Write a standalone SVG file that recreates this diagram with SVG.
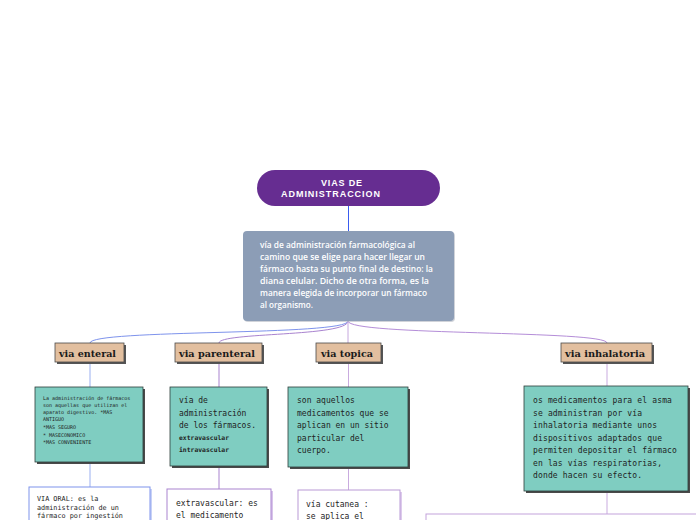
<svg xmlns="http://www.w3.org/2000/svg" width="696" height="520" viewBox="0 0 696 520">
<style>
.title{font-family:"Liberation Sans",Arial,sans-serif;font-weight:bold;font-size:9px;fill:#fff}
.desc{font-family:"Open Sans","Noto Sans",sans-serif;font-size:9px;font-weight:600;fill:#fff}
.hdr{font-family:"DejaVu Serif","Liberation Serif",serif;font-weight:bold;font-size:10px;fill:#1a1a1a}
.mono{font-family:"DejaVu Sans Mono","Liberation Mono",monospace;fill:#1e1e1e}
.hbox{fill:#e2bf9f;stroke:#4a4a4a;stroke-width:0.8}
.hsh{fill:#555}
.teal{fill:#7fcdc1;stroke:#2e3e3a;stroke-width:0.8}
.tsh{fill:#4a4a4a}
.wbox{fill:#fff;stroke-width:1}
.conn{fill:none;stroke-width:1}
</style>
<g id="connectors">
<line x1="348.5" y1="206" x2="348.5" y2="231" stroke="#3a5cf0" class="conn"/>
<path d="M348,321 C348,336 90,329 90,343" stroke="#7e93ec" class="conn"/>
<path d="M348,321 C348,337 219,332 219,343" stroke="#a983cf" class="conn"/>
<path d="M348,321 L348,343" stroke="#c6a8de" class="conn"/>
<path d="M348,321 C348,336 607,330 607,343" stroke="#b48dd8" class="conn"/>
<line x1="90" y1="363" x2="90" y2="387" stroke="#9aaff0" class="conn"/>
<line x1="219" y1="363" x2="219" y2="387" stroke="#a983cf" class="conn"/>
<line x1="348.5" y1="363" x2="348.5" y2="387" stroke="#c9abdf" class="conn"/>
<line x1="607" y1="363" x2="607" y2="386" stroke="#c9abdf" class="conn"/>
<line x1="90" y1="462" x2="90" y2="487" stroke="#9aaff0" class="conn"/>
<line x1="219" y1="467" x2="219" y2="489" stroke="#a983cf" class="conn"/>
<line x1="348.5" y1="468" x2="348.5" y2="490" stroke="#c9abdf" class="conn"/>
<line x1="607" y1="491" x2="607" y2="514" stroke="#c9abdf" class="conn"/>
</g>
<g id="title">
<rect x="257" y="170" width="183" height="36" rx="18" fill="#662d91"/>
<text class="title" x="321" y="185.5" textLength="41" lengthAdjust="spacing">VIAS DE</text>
<text class="title" x="281" y="197" textLength="99" lengthAdjust="spacing">ADMINISTRACCION</text>
</g>
<g id="definition">
<rect x="244" y="232" width="211" height="90" rx="4" fill="#b0b6c0" opacity="0.6"/>
<rect x="243" y="231" width="211" height="90" rx="4" fill="#8c9db6"/>
<text class="desc" x="260" y="248" textLength="155" lengthAdjust="spacingAndGlyphs">vía de administración farmacológica al</text>
<text class="desc" x="260" y="260" textLength="165" lengthAdjust="spacingAndGlyphs">camino que se elige para hacer llegar un</text>
<text class="desc" x="260" y="272" textLength="173" lengthAdjust="spacingAndGlyphs">fármaco hasta su punto final de destino: la</text>
<text class="desc" x="260" y="284" textLength="169" lengthAdjust="spacingAndGlyphs">diana celular. Dicho de otra forma, es la</text>
<text class="desc" x="260" y="296" textLength="167" lengthAdjust="spacingAndGlyphs">manera elegida de incorporar un fármaco</text>
<text class="desc" x="260" y="308" textLength="53" lengthAdjust="spacingAndGlyphs">al organismo.</text>
</g>
<g id="h-enteral">
<rect class="hsh" x="57" y="345" width="69" height="19"/>
<rect class="hbox" x="55" y="343" width="69" height="19"/>
<text class="hdr" x="59" y="356.5" textLength="57" lengthAdjust="spacingAndGlyphs">via enteral</text>
</g>
<g id="h-parenteral">
<rect class="hsh" x="177" y="345" width="87" height="19"/>
<rect class="hbox" x="175" y="343" width="87" height="19"/>
<text class="hdr" x="179" y="356.5" textLength="76" lengthAdjust="spacingAndGlyphs">via parenteral</text>
</g>
<g id="h-topica">
<rect class="hsh" x="318" y="345" width="65" height="19"/>
<rect class="hbox" x="316" y="343" width="65" height="19"/>
<text class="hdr" x="321" y="356.5" textLength="52" lengthAdjust="spacingAndGlyphs">via topica</text>
</g>
<g id="h-inhalatoria">
<rect class="hsh" x="563" y="345" width="91" height="19"/>
<rect class="hbox" x="561" y="343" width="91" height="19"/>
<text class="hdr" x="565" y="356.5" textLength="80" lengthAdjust="spacingAndGlyphs">via inhalatoria</text>
</g>
<g id="t-enteral">
<rect class="tsh" x="37" y="389" width="108" height="75"/>
<rect class="teal" x="35" y="387" width="108" height="75"/>
<g class="mono" font-size="5px">
<text x="43" y="400">La administración de fármacos</text>
<text x="43" y="407">son aquellas que utilizan el</text>
<text x="43" y="414">aparato digestivo. *MAS</text>
<text x="43" y="421">ANTIGUO</text>
<text x="43" y="429">*MAS SEGURO</text>
<text x="43" y="436.5">* MASECONOMICO</text>
<text x="43" y="444">*MAS CONVENIENTE</text>
</g>
</g>
<g id="t-parenteral">
<rect class="tsh" x="172" y="389" width="97" height="79"/>
<rect class="teal" x="170" y="387" width="97" height="79"/>
<g class="mono" font-size="8px">
<text x="179" y="403">vía de</text>
<text x="179" y="415.5">administración</text>
<text x="179" y="428">de los fármacos.</text>
</g>
<g class="mono" font-size="6.4px" font-weight="bold">
<text x="179" y="440">extravascular</text>
<text x="179" y="452">intravascular</text>
</g>
</g>
<g id="t-topica">
<rect class="tsh" x="290" y="389" width="120" height="80"/>
<rect class="teal" x="288" y="387" width="120" height="80"/>
<g class="mono" font-size="8px">
<text x="297" y="403">son aquellos</text>
<text x="297" y="415.5">medicamentos que se</text>
<text x="297" y="428">aplican en un sitio</text>
<text x="297" y="440.5">particular del</text>
<text x="297" y="453">cuerpo.</text>
</g>
</g>
<g id="t-inhalatoria">
<rect class="tsh" x="526" y="388" width="164" height="105"/>
<rect class="teal" x="524" y="386" width="164" height="105"/>
<g class="mono" font-size="8px" letter-spacing="0.15">
<text x="533" y="403">os medicamentos para el asma</text>
<text x="533" y="415.5">se administran por vía</text>
<text x="533" y="428">inhalatoria mediante unos</text>
<text x="533" y="440.5">dispositivos adaptados que</text>
<text x="533" y="453">permiten depositar el fármaco</text>
<text x="533" y="465.5">en las vías respiratorias,</text>
<text x="533" y="478">donde hacen su efecto.</text>
</g>
</g>
<g id="b-enteral">
<rect x="31" y="489" width="121" height="40" fill="#c8d2f6"/>
<rect class="wbox" x="29" y="487" width="121" height="40" stroke="#7e93ec"/>
<g class="mono" font-size="6.8px">
<text x="37" y="500.5">VIA ORAL:  es la</text>
<text x="37" y="509.5">administración de un</text>
<text x="37" y="518.3">fármaco por ingestión</text>
</g>
</g>
<g id="b-parenteral">
<rect x="169" y="491" width="104" height="40" fill="#d8c4ea"/>
<rect class="wbox" x="167" y="489" width="104" height="40" stroke="#a983cf"/>
<g class="mono" font-size="8px">
<text x="176" y="506">extravascular: es</text>
<text x="176" y="518">el medicamento</text>
</g>
</g>
<g id="b-topica">
<rect x="300" y="492" width="102" height="40" fill="#ddcbec"/>
<rect class="wbox" x="298" y="490" width="102" height="40" stroke="#b99ad6"/>
<g class="mono" font-size="8px">
<text x="306" y="506.5">vía cutanea :</text>
<text x="306" y="518.5">se aplica el</text>
</g>
</g>
<g id="b-inhalatoria">
<rect class="wbox" x="426" y="514" width="280" height="20" stroke="#c4a3dc"/>
</g>
</svg>
